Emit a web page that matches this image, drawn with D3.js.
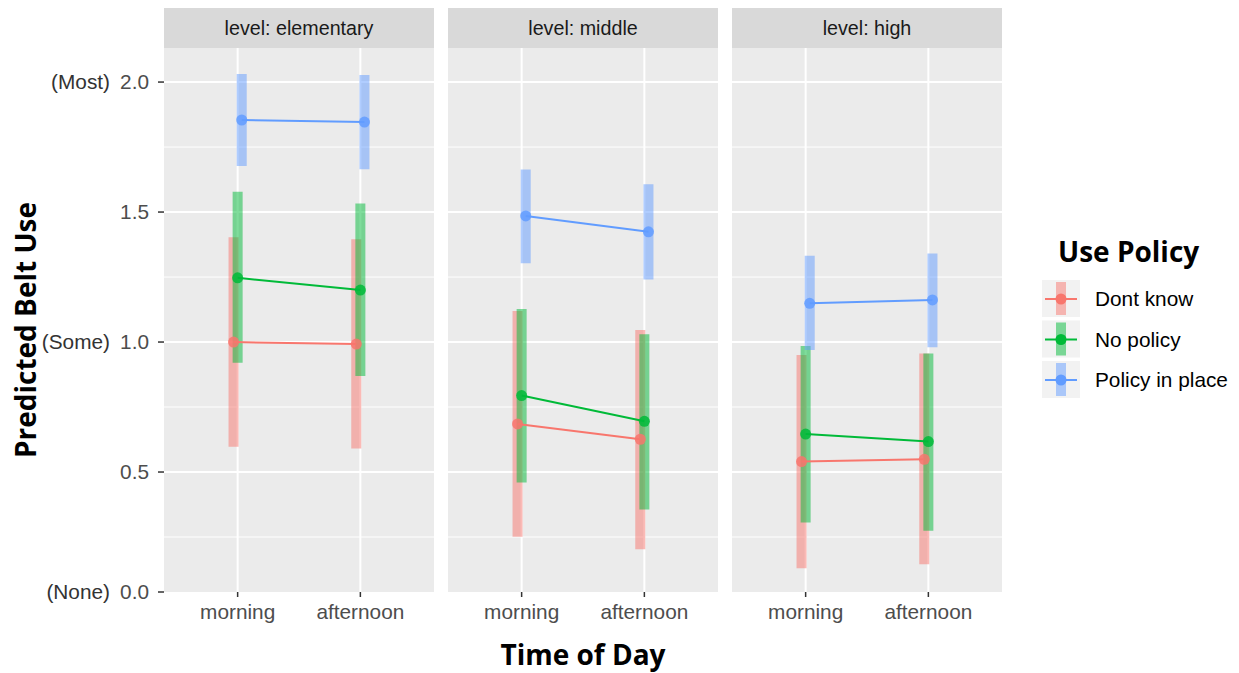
<!DOCTYPE html>
<html><head><meta charset="utf-8">
<script src="https://cdn.jsdelivr.net/npm/d3@7"></script>
<style>body{margin:0;background:#fff}</style>
</head><body>
<svg id="c" width="1239" height="673"></svg>
<script>
// ---- data ----
const levels = ["elementary", "middle", "high"];
const times = ["morning", "afternoon"];
const policies = ["Dont know", "No policy", "Policy in place"];
const colors = ["#F8766D", "#00BA38", "#619CFF"];
// values ordered: elementary-morning, elementary-afternoon, middle-morning, middle-afternoon, high-morning, high-afternoon
const dontKnowEst = [1.000, 0.992, 0.685, 0.626, 0.540, 0.549];
const dontKnowLo  = [0.597, 0.590, 0.251, 0.203, 0.130, 0.145];
const dontKnowHi  = [1.403, 1.395, 1.119, 1.046, 0.950, 0.956];
const noPolicyEst = [1.247, 1.200, 0.794, 0.695, 0.646, 0.617];
const noPolicyLo  = [0.920, 0.869, 0.460, 0.356, 0.306, 0.274];
const noPolicyHi  = [1.578, 1.533, 1.127, 1.030, 0.985, 0.956];
const inPlaceEst  = [1.854, 1.846, 1.485, 1.424, 1.149, 1.162];
const inPlaceLo   = [1.677, 1.665, 1.303, 1.241, 0.969, 0.980];
const inPlaceHi   = [2.031, 2.027, 1.664, 1.607, 1.332, 1.341];
const yTicks = [0, 0.5, 1.0, 1.5, 2.0];
const yTickLabels = ["0.0", "0.5", "1.0", "1.5", "2.0"];
const yTickNotes = ["(None)", "", "(Some)", "", "(Most)"];
const yMinor = [0.25, 0.75, 1.25, 1.75];
const yDomain = [0.0385, 2.131];

const seriesEst = [dontKnowEst, noPolicyEst, inPlaceEst];
const seriesLo = [dontKnowLo, noPolicyLo, inPlaceLo];
const seriesHi = [dontKnowHi, noPolicyHi, inPlaceHi];

// ---- layout ----
const svg = d3.select("#c");
const panelTop = 48, panelBottom = 592, stripTop = 8;
const panelW = 270, panelGap = 14, panelLeft0 = 164;
const sans = "'Liberation Sans', Arial, sans-serif";
const bold = "'Open Sans', 'DejaVu Sans', sans-serif";
const fs = 20.8;

const y = d3.scaleLinear().domain(yDomain).range([panelBottom, panelTop]).clamp(true);
const facet = d3.scaleBand().domain(levels).range([panelLeft0, panelLeft0 + 3 * panelW + 2 * panelGap])
  .paddingInner(panelGap / (panelW + panelGap)).paddingOuter(0);
const dodge = d3.scalePoint().domain(policies).range([-0.0333, 0.0333]);

levels.forEach((lev, li) => {
  const x0 = facet(lev);
  const x = d3.scaleLinear().domain([0.4, 2.6]).range([x0, x0 + facet.bandwidth()]);
  const g = svg.append("g");
  // strip
  g.append("rect").attr("x", x0).attr("y", stripTop).attr("width", facet.bandwidth())
    .attr("height", panelTop - stripTop).attr("fill", "#d9d9d9");
  g.append("text").attr("x", x0 + facet.bandwidth() / 2).attr("y", (stripTop + panelTop) / 2)
    .attr("dy", "0.35em").attr("text-anchor", "middle").attr("font-family", sans)
    .attr("font-size", 19.7).attr("fill", "#1a1a1a").text("level: " + lev);
  // panel
  g.append("rect").attr("x", x0).attr("y", panelTop).attr("width", facet.bandwidth())
    .attr("height", panelBottom - panelTop).attr("fill", "#ebebeb");
  yMinor.forEach(v => g.append("line").attr("x1", x0).attr("x2", x0 + facet.bandwidth())
    .attr("y1", y(v)).attr("y2", y(v)).attr("stroke", "#fff").attr("stroke-width", 1));
  yTicks.filter(v => v >= yDomain[0]).forEach(v => g.append("line").attr("x1", x0).attr("x2", x0 + facet.bandwidth())
    .attr("y1", y(v)).attr("y2", y(v)).attr("stroke", "#fff").attr("stroke-width", 2));
  times.forEach((t, ti) => {
    g.append("line").attr("x1", x(ti + 1)).attr("x2", x(ti + 1)).attr("y1", panelTop).attr("y2", panelBottom)
      .attr("stroke", "#fff").attr("stroke-width", 2);
    // x tick
    g.append("line").attr("x1", x(ti + 1)).attr("x2", x(ti + 1)).attr("y1", panelBottom).attr("y2", panelBottom + 5)
      .attr("stroke", "#333").attr("stroke-width", 1.5);
    g.append("text").attr("x", x(ti + 1)).attr("y", panelBottom + 20).attr("dy", "0.35em")
      .attr("text-anchor", "middle").attr("font-family", sans).attr("font-size", fs)
      .attr("fill", "#4d4d4d").text(t);
  });
  // bars
  policies.forEach((p, pi) => {
    times.forEach((t, ti) => {
      const k = li * 2 + ti;
      const cx = x(ti + 1 + dodge(p));
      g.append("line").attr("x1", cx).attr("x2", cx).attr("y1", y(seriesLo[pi][k])).attr("y2", y(seriesHi[pi][k]))
        .attr("stroke", colors[pi]).attr("stroke-opacity", 0.5).attr("stroke-width", 10);
    });
  });
  // lines
  policies.forEach((p, pi) => {
    const pts = times.map((t, ti) => [x(ti + 1 + dodge(p)), y(seriesEst[pi][li * 2 + ti])]);
    g.append("path").attr("d", d3.line()(pts)).attr("stroke", colors[pi]).attr("stroke-width", 2).attr("fill", "none");
  });
  // points
  policies.forEach((p, pi) => {
    times.forEach((t, ti) => {
      g.append("circle").attr("cx", x(ti + 1 + dodge(p))).attr("cy", y(seriesEst[pi][li * 2 + ti]))
        .attr("r", 5.5).attr("fill", colors[pi]).attr("fill-opacity", 0.85);
    });
  });
});

// y axis
yTicks.forEach((v, i) => {
  const yy = y(v);
  svg.append("line").attr("x1", panelLeft0 - 6).attr("x2", panelLeft0).attr("y1", yy).attr("y2", yy)
    .attr("stroke", "#333").attr("stroke-width", 1.5);
  svg.append("text").attr("x", panelLeft0 - 15).attr("y", yy).attr("dy", "0.35em").attr("text-anchor", "end")
    .attr("font-family", sans).attr("font-size", fs).attr("fill", "#4d4d4d").text(yTickLabels[i]);
  if (yTickNotes[i]) svg.append("text").attr("x", panelLeft0 - 54).attr("y", yy).attr("dy", "0.35em").attr("text-anchor", "end")
    .attr("font-family", sans).attr("font-size", fs).attr("fill", "#333").text(yTickNotes[i]);
});

// axis titles
svg.append("text").attr("transform", `translate(36,${(panelTop + panelBottom) / 2 + 10}) rotate(-90)`)
  .attr("text-anchor", "middle").attr("font-family", bold).attr("font-weight", 700)
  .attr("font-size", 28).attr("fill", "#000").text("Predicted Belt Use");
svg.append("text").attr("x", (panelLeft0 + panelLeft0 + 3 * panelW + 2 * panelGap) / 2).attr("y", 665)
  .attr("text-anchor", "middle").attr("font-family", bold).attr("font-weight", 700)
  .attr("font-size", 28).attr("fill", "#000").text("Time of Day");

// legend
const lg = svg.append("g");
lg.append("text").attr("x", 1058).attr("y", 262).attr("font-family", bold).attr("font-weight", 700)
  .attr("font-size", 28).attr("fill", "#000").text("Use Policy");
policies.forEach((p, pi) => {
  const top = 280 + pi * 40.5, kx = 1042, ks = 38;
  lg.append("rect").attr("x", kx).attr("y", top).attr("width", ks).attr("height", ks - 1).attr("fill", "#f2f2f2");
  lg.append("line").attr("x1", kx + ks / 2).attr("x2", kx + ks / 2).attr("y1", top + 2).attr("y2", top + ks - 3)
    .attr("stroke", colors[pi]).attr("stroke-opacity", 0.5).attr("stroke-width", 10);
  lg.append("line").attr("x1", kx + 3).attr("x2", kx + ks - 3).attr("y1", top + ks / 2).attr("y2", top + ks / 2)
    .attr("stroke", colors[pi]).attr("stroke-width", 2);
  lg.append("circle").attr("cx", kx + ks / 2).attr("cy", top + ks / 2).attr("r", 5.5).attr("fill", colors[pi]);
  lg.append("text").attr("x", 1095).attr("y", top + ks / 2).attr("dy", "0.35em").attr("font-family", sans)
    .attr("font-size", fs).attr("fill", "#000").text(p);
});
</script>
</body></html>
